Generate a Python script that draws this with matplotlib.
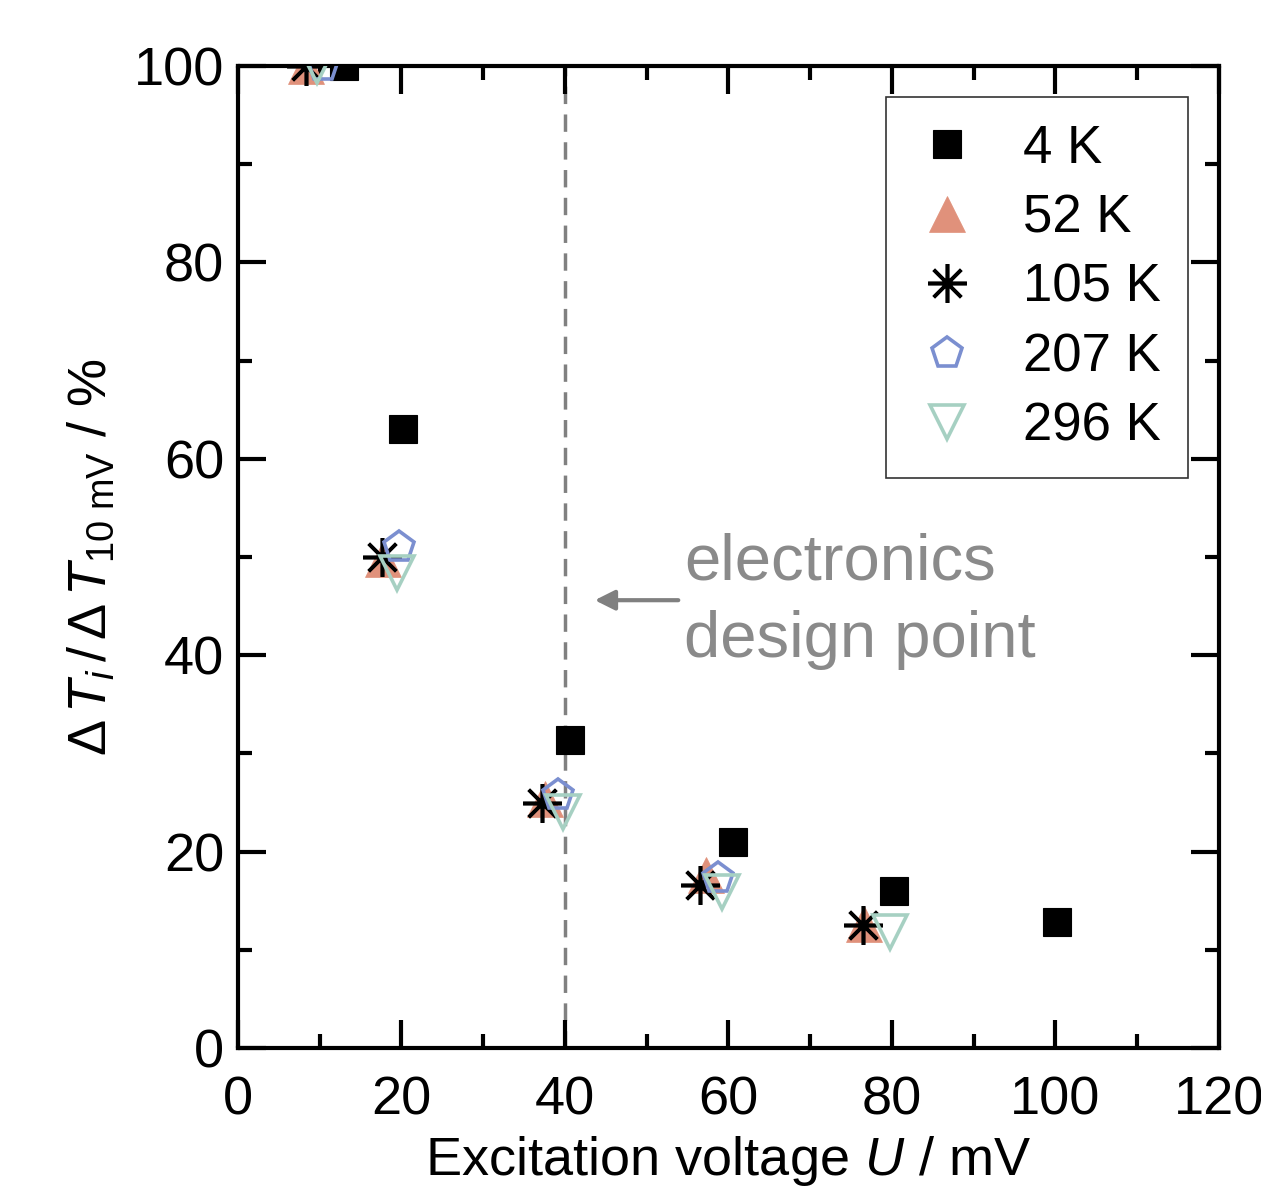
import numpy as np
import matplotlib
matplotlib.use("Agg")
import matplotlib.pyplot as plt
from matplotlib.ticker import MultipleLocator

plt.rcParams['font.family'] = ['Liberation Sans', 'DejaVu Sans']
plt.rcParams['mathtext.fontset'] = 'custom'
plt.rcParams['mathtext.rm'] = 'Liberation Sans'
plt.rcParams['mathtext.it'] = 'Liberation Sans:italic'

# data (x in mV, y in %)
x_4K = [13.0, 20.2, 40.6, 60.6, 80.3, 100.2]
y_4K = [100.0, 63.0, 31.4, 21.0, 16.0, 12.8]

x_52K = [8.3, 17.8, 37.6, 57.2, 76.6]
y_52K = [100.0, 49.8, 25.4, 17.6, 12.6]

x_105K = [8.3, 17.6, 37.2, 56.5, 76.4]
y_105K = [100.0, 50.0, 24.9, 16.6, 12.5]

x_207K = [10.4, 19.7, 39.1, 58.7]
y_207K = [100.0, 51.0, 25.8, 17.3]

x_296K = [9.7, 19.5, 39.7, 59.2, 79.7]
y_296K = [100.0, 48.4, 24.0, 15.9, 11.8]

design_point = 40

fig = plt.figure(figsize=(12.61, 11.89), dpi=100)
ax = fig.add_axes([0.1887, 0.1186, 0.7780, 0.8259])

ax.plot(x_4K, y_4K, ls='none', marker='s', ms=19.5, mfc='black', mec='black', mew=0.8, label='4 K', zorder=3)
ax.plot(x_52K, y_52K, ls='none', marker='^', ms=26, mfc='#e0917b', mec='#e0917b', mew=0.5, label='52 K', zorder=3)
ax.plot(x_105K, y_105K, ls='none', marker=(8, 2, 0), ms=28, mec='black', mew=2.6, label='105 K', zorder=4)
ax.plot(x_207K, y_207K, ls='none', marker='p', ms=23, mfc='none', mec='#7b8fd0', mew=2.6, label='207 K', zorder=5)
ax.plot(x_296K, y_296K, ls='none', marker='v', ms=24, mfc='none', mec='#a6d0c2', mew=2.6, label='296 K', zorder=6)

ax.axvline(design_point, color='#808080', ls=(0, (5, 3)), lw=2.5, zorder=1)
ax.annotate('', xy=(43.3, 45.6), xytext=(54.2, 45.6),
            arrowprops=dict(arrowstyle='-|>', color='#808080', lw=3, mutation_scale=30))
ax.text(54.6, 49.4, 'electronics', color='#8a8a8a', fontsize=47, va='center', ha='left')
ax.text(54.6, 41.5, 'design point', color='#8a8a8a', fontsize=47, va='center', ha='left')

ax.set_xlim(0, 120)
ax.set_ylim(0, 100)
ax.xaxis.set_major_locator(MultipleLocator(20))
ax.xaxis.set_minor_locator(MultipleLocator(10))
ax.yaxis.set_major_locator(MultipleLocator(20))
ax.yaxis.set_minor_locator(MultipleLocator(10))
ax.tick_params(which='both', direction='in', top=True, right=True, width=3, labelsize=39)
ax.tick_params(which='major', length=20)
ax.tick_params(which='major', axis='x', pad=20)
ax.tick_params(which='major', axis='y', pad=10)
ax.tick_params(which='minor', length=10)
for s in ax.spines.values():
    s.set_linewidth(3)

ax.set_xlabel('Excitation voltage $U$ / mV', fontsize=39, labelpad=6)
ax.set_ylabel(r'$\mathrm{\Delta}\,T_i\,/\,\mathrm{\Delta}\,T_{10\ \mathrm{mV}}$ / %', fontsize=39, labelpad=12)

leg = ax.legend(loc='upper right', bbox_to_anchor=(0.968, 0.968), fontsize=38, frameon=True,
                fancybox=False, edgecolor='black', handletextpad=0.8, handlelength=1.3,
                labelspacing=0.37, borderpad=0.5, borderaxespad=0, numpoints=1)
leg.get_frame().set_linewidth(1.2)

fig.savefig('out.png', dpi=100)
